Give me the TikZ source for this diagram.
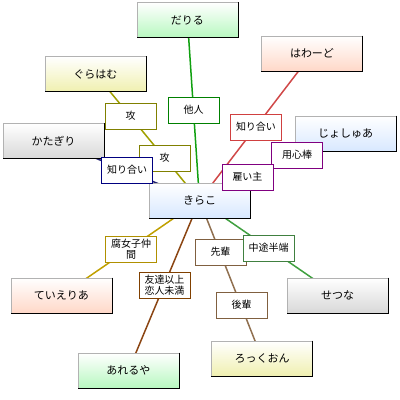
\documentclass[tikz,border=0pt]{standalone}
\usepackage{fontspec}
\setmainfont{Noto Sans CJK JP}
\usetikzlibrary{backgrounds}
\definecolor{cgreen}{HTML}{B8F8C0}
\definecolor{cyellow}{HTML}{F0F0B0}
\definecolor{cgray}{HTML}{D8D8D8}
\definecolor{csalmon}{HTML}{FFD8C8}
\definecolor{cblue}{HTML}{D8E8FF}
\definecolor{eolive}{HTML}{A0A000}
\definecolor{egreen}{HTML}{10A010}
\definecolor{ered}{HTML}{D04848}
\definecolor{epurple}{HTML}{900090}
\definecolor{enavy}{HTML}{202070}
\definecolor{egold}{HTML}{C0A000}
\definecolor{ebrown}{HTML}{8B4513}
\definecolor{etan}{HTML}{907050}
\definecolor{egreenb}{HTML}{40A040}
\definecolor{lolive}{HTML}{808000}
\definecolor{lgreen}{HTML}{008000}
\definecolor{lred}{HTML}{D04040}
\definecolor{lpurple}{HTML}{800080}
\definecolor{lnavy}{HTML}{000080}
\definecolor{lgold}{HTML}{B09000}
\definecolor{lbrown}{HTML}{804000}
\definecolor{ltan}{HTML}{806040}
\definecolor{lgreenb}{HTML}{408040}
\tikzset{
  box/.style={minimum width=101pt, minimum height=35pt, inner sep=0pt,
    draw=gray!60, line width=0.6pt, top color=white, bottom color=#1,
    font=\fontsize{11}{13}\selectfont},
  lbl/.style={draw=#1, fill=white, minimum width=51pt, minimum height=26pt,
    inner sep=1pt, line width=0.8pt, font=\fontsize{10}{11}\selectfont, align=center},
  edge/.style={draw=#1, line width=1.5pt}
}
\begin{document}
\begin{tikzpicture}[x=1pt,y=-1pt]
\useasboundingbox (0,0) rectangle (400,400);
% main nodes
\node[box=cgreen]  (daryl)    at (187.5,20)   {だりる};
\node[box=cyellow] (graham)   at (95.5,74)    {ぐらはむ};
\node[box=cgray]   (katagiri) at (53.5,141)   {かたぎり};
\node[box=csalmon] (howard)   at (312,53.5)   {はわーど};
\node[box=cblue]   (joshua)   at (345.5,133.5){じょしゅあ};
\node[box=cblue]   (kirako)   at (199.5,200.5){きらこ};
\node[box=csalmon] (tieria)   at (61.5,295.5) {ていえりあ};
\node[box=cgray]   (setsuna)  at (337.5,295.5){せつな};
\node[box=cgreen]  (allelujah) at (128.5,370.5){あれるや};
\node[box=cyellow] (lockon)   at (262,358.5)  {ろっくおん};
\foreach \n in {daryl,graham,katagiri,howard,joshua,kirako,tieria,setsuna,allelujah,lockon}
  \draw[line width=1.3pt,black] (\n.north east) -- (\n.south east) -- (\n.south west);
% labels
\node[lbl=lolive]  (seme1)   at (130.5,116) {攻};
\node[lbl=lolive]  (seme2)   at (164.5,158) {攻};
\node[lbl=lgreen]  (tanin)   at (193.5,110) {他人};
\node[lbl=lnavy]   (shirk)   at (127,170)   {知り合い};
\node[lbl=lred]    (shirh)   at (256,127)   {知り合い};
\node[lbl=lpurple] (yojinbo) at (297,155)   {用心棒};
\node[lbl=lpurple] (yatoi)   at (247.5,177) {雇い主};
\node[lbl=lgold]   (fujo)    at (131,249)   {腐女子仲\\間};
\node[lbl=lbrown]  (tomo)    at (164.5,285) {友達以上\\恋人未満};
\node[lbl=ltan]    (senpai)  at (220.5,252) {先輩};
\node[lbl=lgreenb] (chuto)   at (268.5,248) {中途半端};
\node[lbl=ltan]    (kohai)   at (241.5,305) {後輩};
% edges
\begin{pgfonlayer}{background}
\draw[edge=egreen]  (daryl.center) -- (kirako.center);
\draw[edge=eolive]  (graham.center) -- (kirako.center);
\draw[edge=enavy]   (katagiri.center) -- (kirako.center);
\draw[edge=ered]    (howard.center) -- (kirako.center);
\draw[edge=epurple] (joshua.center) -- (kirako.center);
\draw[edge=egold]   (tieria.center) -- (kirako.center);
\draw[edge=ebrown]  (allelujah.center) -- (kirako.center);
\draw[edge=etan]    (lockon.center) -- (kirako.center);
\draw[edge=egreenb] (setsuna.center) -- (kirako.center);
\end{pgfonlayer}
\end{tikzpicture}
\end{document}
